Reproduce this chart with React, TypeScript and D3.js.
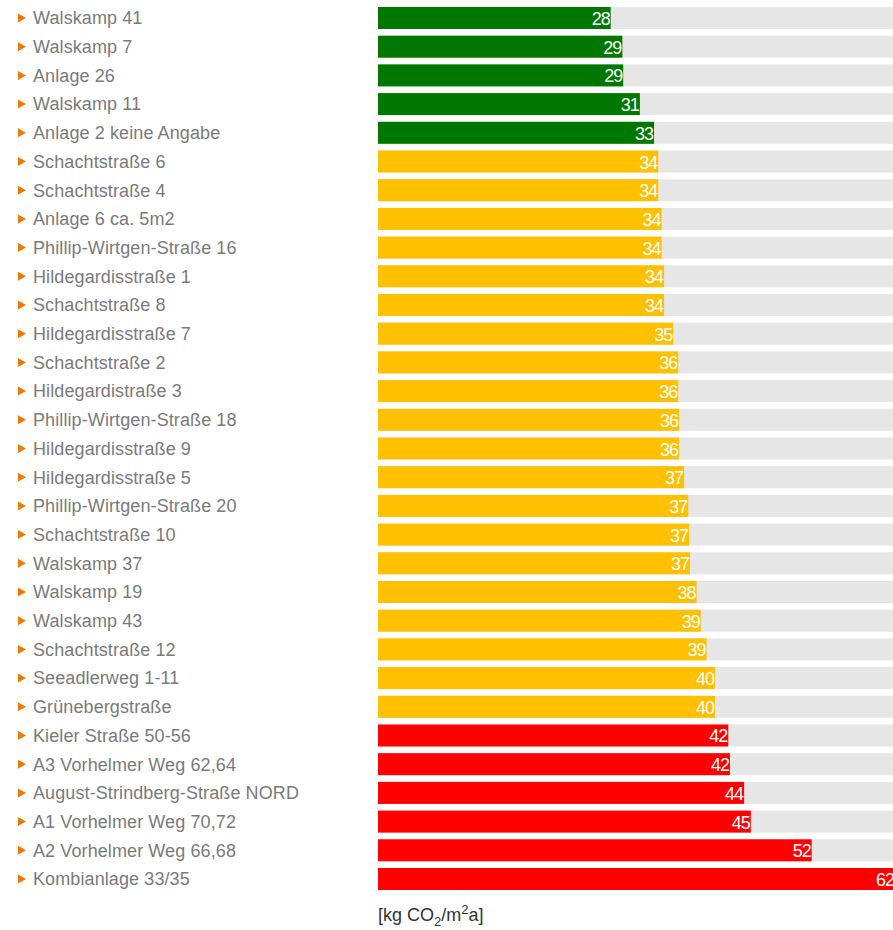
import { useEffect, useRef } from "react";
import * as d3 from "d3";

const sites = [
  "Walskamp 41",
  "Walskamp 7",
  "Anlage 26",
  "Walskamp 11",
  "Anlage 2 keine Angabe",
  "Schachtstraße 6",
  "Schachtstraße 4",
  "Anlage 6 ca. 5m2",
  "Phillip-Wirtgen-Straße 16",
  "Hildegardisstraße 1",
  "Schachtstraße 8",
  "Hildegardisstraße 7",
  "Schachtstraße 2",
  "Hildegardistraße 3",
  "Phillip-Wirtgen-Straße 18",
  "Hildegardisstraße 9",
  "Hildegardisstraße 5",
  "Phillip-Wirtgen-Straße 20",
  "Schachtstraße 10",
  "Walskamp 37",
  "Walskamp 19",
  "Walskamp 43",
  "Schachtstraße 12",
  "Seeadlerweg 1-11",
  "Grünebergstraße",
  "Kieler Straße 50-56",
  "A3 Vorhelmer Weg 62,64",
  "August-Strindberg-Straße NORD",
  "A1 Vorhelmer Weg 70,72",
  "A2 Vorhelmer Weg 66,68",
  "Kombianlage 33/35",
];

// kg CO2 per m2 and year
const emissions = [
  27.9, 29.3, 29.4, 31.4, 33.1, 33.6, 33.6, 34.0, 34.0, 34.3, 34.3, 35.4,
  36.0, 36.0, 36.1, 36.1, 36.7, 37.2, 37.3, 37.4, 38.2, 38.7, 39.4, 40.4,
  40.4, 42.0, 42.2, 43.9, 44.7, 52.0, 62.0,
];

const classLimits = [33.5, 41];
const classColors = ["#007800", "#ffc000", "#ff0000"];

export default function App() {
  const ref = useRef<SVGSVGElement>(null);

  useEffect(() => {
    const width = 893,
      height = 930;
    const svg = d3.select(ref.current);
    svg.selectAll("*").remove();

    const data = sites.map((name, i) => ({ name, value: emissions[i] }));

    const x = d3.scaleLinear().domain([0, 62]).range([378, 378 + 62 * 8.34]);
    const y = d3
      .scaleBand()
      .domain(sites)
      .range([7, 890])
      .paddingInner(0.233)
      .paddingOuter(0);
    const color = d3
      .scaleThreshold<number, string>()
      .domain(classLimits)
      .range(classColors);

    // grey track behind every bar
    svg
      .append("g")
      .attr("fill", "#e6e6e6")
      .selectAll("rect")
      .data(data)
      .join("rect")
      .attr("x", x(0))
      .attr("y", (d) => y(d.name)!)
      .attr("width", width - x(0) + 10)
      .attr("height", y.bandwidth());

    // bars
    svg
      .append("g")
      .selectAll("rect")
      .data(data)
      .join("rect")
      .attr("x", x(0))
      .attr("y", (d) => y(d.name)!)
      .attr("width", (d) => x(d.value) - x(0))
      .attr("height", y.bandwidth())
      .attr("fill", (d) => color(d.value));

    // value labels inside bar ends
    svg
      .append("g")
      .attr("fill", "#fff")
      .attr("font-family", "'Liberation Sans', Arial, sans-serif")
      .attr("font-size", 18)
      .attr("letter-spacing", -1)
      .attr("text-anchor", "end")
      .selectAll("text")
      .data(data)
      .join("text")
      .attr("x", (d) => x(d.value) - 1)
      .attr("y", (d) => y(d.name)! + y.bandwidth() / 2 + 7)
      .text((d) => d3.format(".0f")(d.value));

    // row labels with orange markers
    const rows = svg
      .append("g")
      .selectAll("g")
      .data(data)
      .join("g")
      .attr("transform", (d) => `translate(0,${y(d.name)! + y.bandwidth() / 2})`);

    rows
      .append("path")
      .attr("d", "M18,-4.5L26,0L18,4.5Z")
      .attr("fill", "#f07800");

    rows
      .append("text")
      .attr("x", 33)
      .attr("dy", "0.35em")
      .attr("fill", "#7a7a7a")
      .attr("font-family", "'Liberation Sans', Arial, sans-serif")
      .attr("font-size", 18)
      .attr("letter-spacing", 0.1)
      .text((d) => d.name);

    // unit
    const unit = svg
      .append("text")
      .attr("x", x(0))
      .attr("y", 921)
      .attr("fill", "#333")
      .attr("font-family", "'Liberation Sans', Arial, sans-serif")
      .attr("font-size", 18);
    unit.append("tspan").text("[kg CO");
    unit.append("tspan").attr("font-size", 13).attr("dy", 5).text("2");
    unit.append("tspan").attr("dy", -5).text("/m");
    unit.append("tspan").attr("font-size", 13).attr("dy", -7).text("2");
    unit.append("tspan").attr("dy", 7).text("a]");

    svg.attr("width", width).attr("height", height);
  }, []);

  return (
    <svg
      ref={ref}
      width={893}
      height={930}
      style={{ position: "absolute", left: 0, top: 0, display: "block" }}
    />
  );
}
